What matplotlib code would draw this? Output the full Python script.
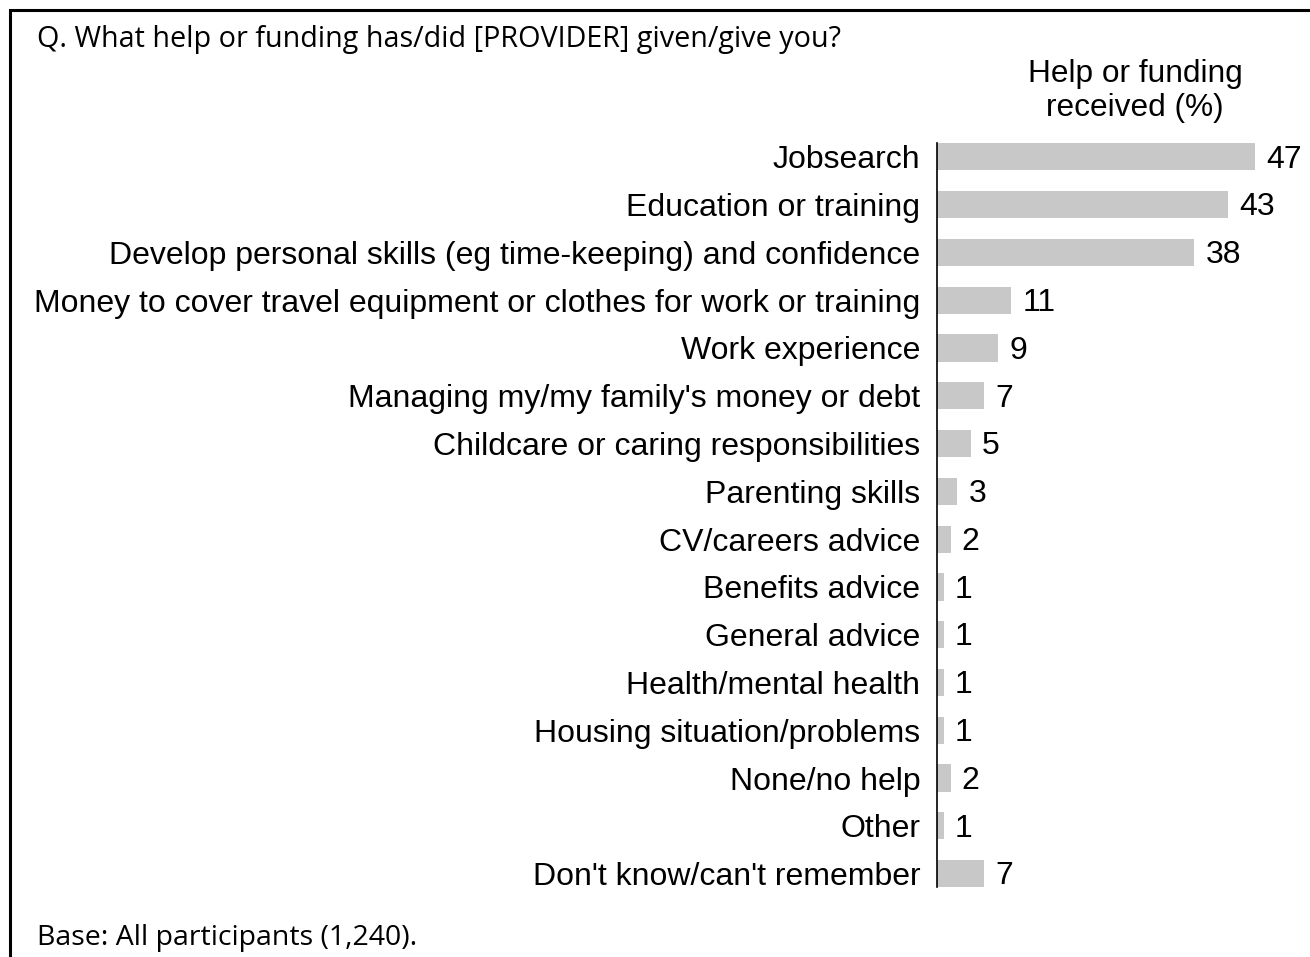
import matplotlib.pyplot as plt
from matplotlib.patches import Rectangle

# Survey responses, top to bottom
categories = [
    "Jobsearch",
    "Education or training",
    "Develop personal skills (eg time-keeping) and confidence",
    "Money to cover travel equipment or clothes for work or training",
    "Work experience",
    "Managing my/my family's money or debt",
    "Childcare or caring responsibilities",
    "Parenting skills",
    "CV/careers advice",
    "Benefits advice",
    "General advice",
    "Health/mental health",
    "Housing situation/problems",
    "None/no help",
    "Other",
    "Don't know/can't remember",
]
values = [47, 43, 38, 11, 9, 7, 5, 3, 2, 1, 1, 1, 1, 2, 1, 7]

question = "Q. What help or funding has/did [PROVIDER] given/give you?"
column_header = "Help or funding\nreceived (%)"
base_note = "Base: All participants (1,240)."

W, H = 1310, 957
fig = plt.figure(figsize=(W / 100, H / 100), dpi=100)

# axes placed in pixel terms
ax_left, ax_right = 937, 1309
ax_top, ax_bottom = 143, 887
ax = fig.add_axes([ax_left / W, 1 - ax_bottom / H,
                   (ax_right - ax_left) / W, (ax_bottom - ax_top) / H])

ypos = list(range(len(categories)))
ax.barh(ypos, values, height=0.57, color="#c8c8c9", edgecolor="none")
ax.set_xlim(0, (ax_right - ax_left) / 6.77)
ax.set_ylim(len(categories) - 1 + 0.28, -0.29)

for s in ["top", "right", "bottom"]:
    ax.spines[s].set_visible(False)
ax.spines["left"].set_linewidth(1.2)
ax.spines["left"].set_color("black")
ax.set_xticks([])
ax.set_yticks(ypos)
ax.set_yticklabels(categories, fontfamily="Liberation Sans", fontsize=23)
ax.tick_params(axis="y", length=0, pad=12)

for y, v in zip(ypos, values):
    ax.annotate(str(v), (v, y), xytext=(8, -2), textcoords="offset points",
                ha="left", va="center", fontfamily="Liberation Sans", fontsize=23)

fig.text(1135 / W, 1 - 91 / H, column_header, ha="center", va="center",
         fontfamily="Liberation Sans", fontsize=22.8, linespacing=1.17)
fig.text(37 / W, 1 - 40 / H, question, ha="left", va="center",
         fontfamily="Open Sans", fontsize=20.7)
fig.text(37 / W, 1 - 938 / H, base_note, ha="left", va="center",
         fontfamily="Open Sans", fontsize=20.5)

# frame: only the top and left edges fall inside the image
fig.add_artist(Rectangle((9.5 / W, -0.1), 1.2, 1.1 - 10 / H,
                         transform=fig.transFigure, fill=False,
                         edgecolor="black", linewidth=2.2))

fig.savefig("out.png", dpi=100)
